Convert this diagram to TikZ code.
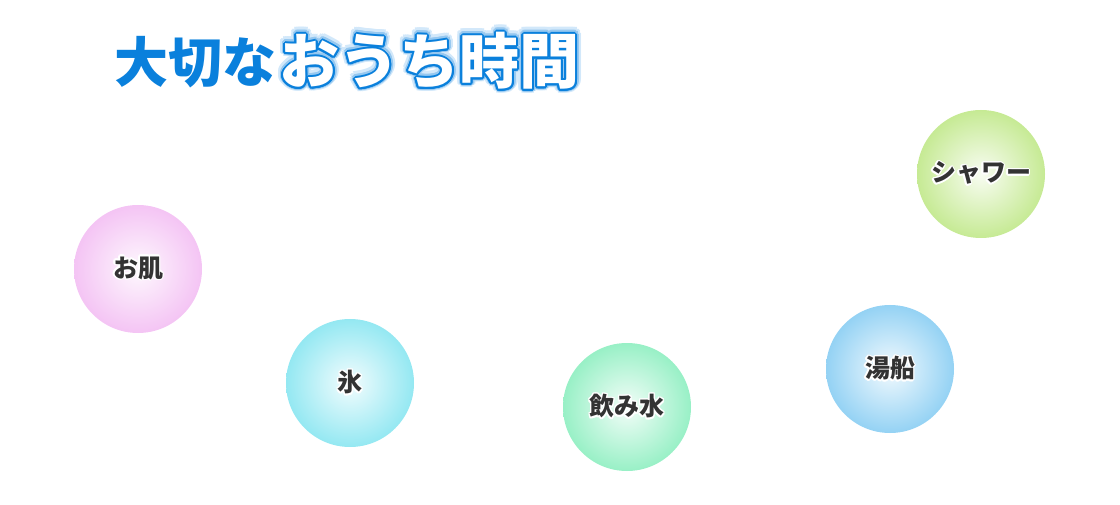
\documentclass[tikz,border=0pt]{standalone}
\usepackage{fontspec}
\usepackage[copies]{contour}
\newfontfamily\jp{Noto Sans CJK JP}
\definecolor{titleblue}{RGB}{10,128,220}
\definecolor{glowA}{RGB}{210,232,250}
\definecolor{glowB}{RGB}{150,200,240}
\definecolor{labelgray}{RGB}{51,51,51}
\definecolor{cpink}{RGB}{244,196,244}
\definecolor{ccyan}{RGB}{148,232,242}
\definecolor{cgreen}{RGB}{152,240,198}
\definecolor{cblue}{RGB}{148,210,244}
\definecolor{clime}{RGB}{198,234,148}
\tikzset{
  bubble/.style={circle, minimum size=128pt, inner sep=0pt, shading=radial,
    inner color=#1!12, outer color=#1,
    font=\jp\bfseries\fontsize{25}{28}\selectfont, text=labelgray},
  titlepart/.style={inner sep=0pt, anchor=west},
  bigtitle/.style={titlepart, font=\jp\bfseries\fontsize{60}{64}\selectfont}
}
\newcommand{\glowlabel}[1]{\contourlength{1.4pt}\contour{white}{#1}}
\begin{document}
\begin{tikzpicture}[x=1pt,y=-1pt]
\useasboundingbox (0,0) rectangle (1120,505);
% title
\node[titlepart, font=\jp\bfseries\fontsize{54}{58}\selectfont, text=titleblue] (t1) at (114,62) {大切な};
\node[bigtitle] (t2glow) at ([xshift=3pt]t1.east) {\contourlength{5.5pt}\contour{glowA}{\textcolor{glowA}{おうち時間}}};
\node[bigtitle] (t2mid) at ([xshift=3pt]t1.east) {\contourlength{3.4pt}\contour{glowB}{\textcolor{glowB}{おうち時間}}};
\node[bigtitle] (t2) at ([xshift=3pt]t1.east) {\contourlength{1.9pt}\contour{titleblue}{\textcolor{white}{おうち時間}}};
% bubbles
\node[bubble=cpink]  (hada)   at (138,269) {\glowlabel{お肌}};
\node[bubble=ccyan]  (koori)  at (350,383) {\glowlabel{氷}};
\node[bubble=cgreen] (nomi)   at (627,407) {\glowlabel{飲み水}};
\node[bubble=cblue]  (yubune) at (890,369) {\glowlabel{湯船}};
\node[bubble=clime]  (shower) at (981,174) {\glowlabel{シャワー}};
\end{tikzpicture}
\end{document}
